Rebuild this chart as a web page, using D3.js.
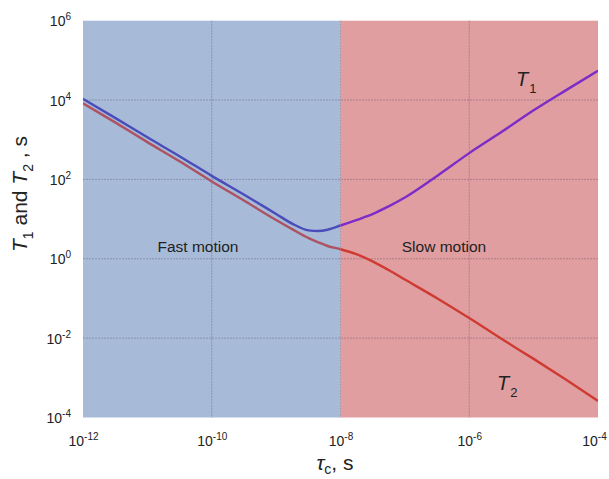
<!DOCTYPE html>
<html>
<head>
<meta charset="utf-8">
<script src="https://cdn.jsdelivr.net/npm/d3@7"></script>
<style>
  body { margin: 0; background: #fff; }
  svg { display: block; font-family: "Liberation Sans", Arial, sans-serif; }
</style>
</head>
<body>
<svg id="chart" width="609" height="479"></svg>
<script>
// correlation time, s
const tau = [1e-12, 3.2e-12, 1e-11, 3.2e-11, 1e-10, 3.2e-10, 1e-9, 1.8e-9, 3.2e-9, 4.5e-9, 6.3e-9,
  1e-8, 1.8e-8, 3.2e-8, 5.6e-8, 1e-7, 3.2e-7, 1e-6, 3.2e-6, 1e-5, 3.2e-5, 1e-4];
const T1 = [1.07e4, 3.5e3, 1.15e3, 380, 123, 41, 13.5, 7.6, 5.2, 5.0, 5.4,
  6.9, 9.6, 13.5, 21, 35, 124, 460, 1580, 5500, 1.78e4, 5.5e4];
const T2 = [8300, 2700, 870, 282, 89, 29, 9.5, 5.5, 3.3, 2.6, 2.1,
  1.74, 1.29, 0.85, 0.52, 0.30, 0.1, 0.032, 0.0095, 0.003, 8.9e-4, 2.6e-4];

const xTicks = [1e-12, 1e-10, 1e-8, 1e-6, 1e-4];
const xTickExp = ["-12", "-10", "-8", "-6", "-4"];
const yTicks = [1e-4, 1e-2, 1e0, 1e2, 1e4, 1e6];
const yTickExp = ["-4", "-2", "0", "2", "4", "6"];

const regionNames = ["Fast motion", "Slow motion"];
const regionFrom = [1e-12, 1e-8];
const regionTo = [1e-8, 1e-4];

const svg = d3.select("#chart");
const pLeft = 83, pRight = 598, pTop = 20.7, pBottom = 417.5;

const x = d3.scaleLog().domain([1e-12, 1e-4]).range([pLeft, pRight]);
const y = d3.scaleLog().domain([1e-4, 1e6]).range([pBottom, pTop]);

const regionFill = ["#a7bbd9", "#e09ea1"];
const lineCol = {
  T1: ["#4a4cba", "#7d2cc9"],
  T2: ["#ad5263", "#cf3b33"]
};

// background regions
svg.selectAll("rect.region")
  .data(regionNames)
  .enter().append("rect")
  .attr("class", "region")
  .attr("x", (d, i) => x(regionFrom[i]))
  .attr("y", pTop)
  .attr("width", (d, i) => x(regionTo[i]) - x(regionFrom[i]))
  .attr("height", pBottom - pTop)
  .attr("fill", (d, i) => regionFill[i]);

// grid
const grid = svg.append("g")
  .attr("stroke", "rgba(70,60,90,0.32)")
  .attr("stroke-width", 1)
  .attr("stroke-dasharray", "2,1");
grid.selectAll("line.gx")
  .data(xTicks.slice(1, -1))
  .enter().append("line")
  .attr("x1", d => x(d)).attr("x2", d => x(d))
  .attr("y1", pTop).attr("y2", pBottom);
grid.selectAll("line.gy")
  .data(yTicks.slice(1, -1))
  .enter().append("line")
  .attr("x1", pLeft).attr("x2", pRight)
  .attr("y1", d => y(d)).attr("y2", d => y(d));

// clip paths for the two regions
const defs = svg.append("defs");
regionNames.forEach((d, i) => {
  defs.append("clipPath").attr("id", "clip" + i)
    .append("rect")
    .attr("x", x(regionFrom[i]))
    .attr("y", pTop - 2)
    .attr("width", x(regionTo[i]) - x(regionFrom[i]))
    .attr("height", pBottom - pTop + 4);
});

const line = d3.line()
  .x(d => x(d[0]))
  .y(d => y(d[1]))
  .curve(d3.curveMonotoneX);

const series = [["T2", d3.zip(tau, T2)], ["T1", d3.zip(tau, T1)]];
series.forEach(([name, pts]) => {
  regionNames.forEach((r, i) => {
    svg.append("path")
      .attr("d", line(pts))
      .attr("clip-path", `url(#clip${i})`)
      .attr("fill", "none")
      .attr("stroke", lineCol[name][i])
      .attr("stroke-width", 2.4)
      .attr("stroke-linejoin", "round");
  });
});

// tick labels
const xl = svg.append("g").attr("font-size", 14).attr("fill", "#222");
xTicks.forEach((t, i) => {
  const tx = xl.append("text")
    .attr("x", i === xTicks.length - 1 ? x(t) - 3.5 : x(t) + 0.5)
    .attr("y", 446)
    .attr("text-anchor", "middle");
  tx.append("tspan").text("10");
  tx.append("tspan").attr("dy", -6).attr("font-size", 10).text(xTickExp[i]);
});
const yl = svg.append("g").attr("font-size", 14).attr("fill", "#222");
yTicks.forEach((t, i) => {
  const ty = yl.append("text")
    .attr("x", 71)
    .attr("y", y(t) + 5.5)
    .attr("text-anchor", "end");
  ty.append("tspan").text("10");
  ty.append("tspan").attr("dy", -6).attr("font-size", 10).text(yTickExp[i]);
});

// region labels
svg.append("text").attr("x", 198).attr("y", 252)
  .attr("text-anchor", "middle").attr("font-size", 15.5).attr("fill", "#222")
  .text(regionNames[0]);
svg.append("text").attr("x", 444).attr("y", 252)
  .attr("text-anchor", "middle").attr("font-size", 15.5).attr("fill", "#222")
  .text(regionNames[1]);

// curve labels
function tLabel(px, py, sub) {
  const t = svg.append("text").attr("x", px).attr("y", py)
    .attr("font-size", 20).attr("fill", "#222");
  t.append("tspan").attr("font-style", "italic").text("T");
  t.append("tspan").attr("dy", 7).attr("dx", 1).attr("font-size", 13).text(sub);
}
tLabel(516, 86, "1");
tLabel(497, 390, "2");

// axis titles
const yt = svg.append("text")
  .attr("transform", "translate(27,194) rotate(-90)")
  .attr("text-anchor", "middle")
  .attr("font-size", 21).attr("fill", "#222");
yt.append("tspan").attr("font-style", "italic").text("T");
yt.append("tspan").attr("dy", 6).attr("font-size", 14).text("1");
yt.append("tspan").attr("dy", -6).text(" and ");
yt.append("tspan").attr("font-style", "italic").text("T");
yt.append("tspan").attr("dy", 6).attr("font-size", 14).text("2");
yt.append("tspan").attr("dy", -6).text(" , s");

const xt = svg.append("text")
  .attr("x", 335).attr("y", 470)
  .attr("text-anchor", "middle")
  .attr("font-size", 21).attr("fill", "#222");
xt.append("tspan").attr("font-style", "italic").text("τ");
xt.append("tspan").attr("dy", 4).attr("font-size", 14).text("c");
xt.append("tspan").attr("dy", -4).text(", s");
</script>
</body>
</html>
